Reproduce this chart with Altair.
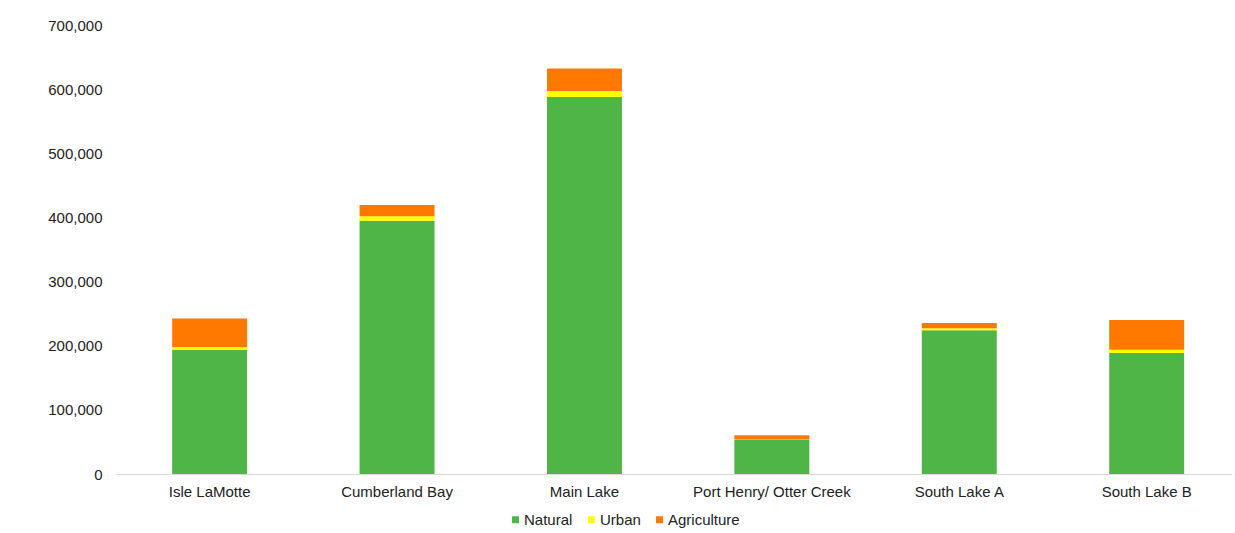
import altair as alt
import pandas as pd

regions = ["Isle LaMotte", "Cumberland Bay", "Main Lake", "Port Henry/ Otter Creek", "South Lake A", "South Lake B"]
natural = [193300, 395000, 587800, 54100, 224000, 188600]
urban = [4700, 6800, 9300, 600, 3100, 5200]
agriculture = [44500, 17600, 34900, 5600, 8300, 46300]
categories = ["Natural", "Urban", "Agriculture"]
colors = ["#50B547", "#FFFF00", "#FF7800"]
y_ticks = [0, 100000, 200000, 300000, 400000, 500000, 600000, 700000]

rows = []
for i, r in enumerate(regions):
    for k, (cat, vals) in enumerate(zip(categories, [natural, urban, agriculture])):
        rows.append({"Region": r, "Type": cat, "Value": vals[i], "ord": k})
df = pd.DataFrame(rows)

font = "Liberation Sans"
txt = "#222222"

chart = alt.Chart(df).mark_bar().encode(
    x=alt.X("Region:N", sort=regions, title=None,
            scale=alt.Scale(paddingInner=0.6, paddingOuter=0.2775, align=0.54),
            axis=alt.Axis(labelAngle=0, ticks=False, domainColor="#d9d9d9",
                          labelPadding=10, labelFontSize=15, labelColor=txt,
                          labelFont=font)),
    y=alt.Y("sum(Value):Q", title=None,
            scale=alt.Scale(domain=[0, 700000]),
            axis=alt.Axis(values=y_ticks, format=",.0f", grid=False, domain=False,
                          ticks=False, labelPadding=14, labelFontSize=15,
                          labelColor=txt, labelFont=font)),
    color=alt.Color("Type:N", sort=categories,
                    scale=alt.Scale(domain=categories, range=colors),
                    legend=alt.Legend(title=None, orient="none", direction="horizontal",
                                      legendX=392, legendY=487, symbolType="square",
                                      symbolSize=49, symbolStrokeWidth=0,
                                      labelFontSize=15, labelFont=font,
                                      labelColor=txt, columnPadding=11,
                                      labelOffset=1)),
    order=alt.Order("ord:Q"),
).properties(
    width=1116, height=449,
    padding={"left": 116, "top": 25, "right": 3, "bottom": 59},
    autosize=alt.AutoSizeParams(type="none"),
    background="white",
).configure_view(stroke=None, strokeWidth=0)

chart.save("out.html", embed_options={"renderer": "svg", "actions": False})
